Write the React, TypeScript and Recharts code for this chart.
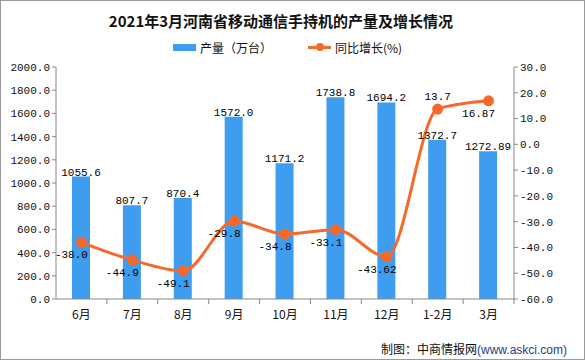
import { ComposedChart, Bar, Line, XAxis, YAxis, LabelList } from 'recharts';

const months = ['6月', '7月', '8月', '9月', '10月', '11月', '12月', '1-2月', '3月'];
const output = [1055.6, 807.7, 870.4, 1572.0, 1171.2, 1738.8, 1694.2, 1372.7, 1272.89];
const growth = [-38.0, -44.9, -49.1, -29.8, -34.8, -33.1, -43.62, 13.7, 16.87];
const leftTicks = [0, 200, 400, 600, 800, 1000, 1200, 1400, 1600, 1800, 2000];
const rightTicks = [-60, -50, -40, -30, -20, -10, 0, 10, 20, 30];

const data = months.map((m, i) => ({ name: m, output: output[i], growth: growth[i] }));

const BLUE = '#3F9DEF';
const ORANGE = '#F5692B';
const NUM_FONT = '"Liberation Mono", "DejaVu Sans Mono", monospace';
const CJK_FONT = '"Noto Sans CJK SC", sans-serif';

const CHART_W = 583;
const MARGIN = { top: 66, right: 10, left: 4, bottom: 0 };
const LEFT_AXIS_W = 51;
const RIGHT_AXIS_W = 60;
const band = (CHART_W - MARGIN.left - MARGIN.right - LEFT_AXIS_W - RIGHT_AXIS_W) / months.length;

// keep one decimal for whole numbers, otherwise show as read
const fmt = (v: number) => {
  const s = String(v);
  return s.includes('.') ? s : v.toFixed(1);
};

// category label plus a tick mark on the category boundary
const MonthTick = (props: any) => {
  const { x, y, payload } = props;
  return (
    <g>
      <line x1={x + band / 2} x2={x + band / 2} y1={y - 6} y2={y - 1} stroke="#888" />
      <text x={x} y={y + 14} textAnchor="middle" fontSize={12} fill="#111" fontFamily={CJK_FONT}>
        {payload.value}
      </text>
    </g>
  );
};

const GrowthLabel = (props: any) => {
  const { x, y, value, index } = props;
  const above = index === 7;
  return (
    <text
      x={above ? x : x - 10}
      y={above ? y - 9 : y + 16}
      textAnchor="middle"
      fontSize={11}
      fontFamily={NUM_FONT}
      fill="#000"
    >
      {fmt(value)}
    </text>
  );
};

const App = () => {
  return (
    <div
      style={{
        position: 'absolute',
        left: 0,
        top: 0,
        width: 585,
        height: 360,
        background: '#fff',
        border: '1px solid #9a9a9a',
        boxSizing: 'border-box',
        fontFamily: CJK_FONT,
      }}
    >
      <div
        style={{
          position: 'absolute',
          top: 9,
          left: 0,
          width: 560,
          textAlign: 'center',
          fontSize: 15,
          fontWeight: 'bold',
          color: '#111',
        }}
      >
        2021年3月河南省移动通信手持机的产量及增长情况
      </div>
      <div style={{ position: 'absolute', top: 38, left: 172, fontSize: 12, display: 'flex', alignItems: 'center', color: '#111' }}>
        <span style={{ display: 'inline-block', width: 23, height: 7, background: BLUE, marginRight: 4 }} />
        <span>产量（万台）</span>
        <span style={{ position: 'relative', display: 'inline-block', width: 23, height: 3, background: ORANGE, marginLeft: 36, marginRight: 4 }}>
          <span style={{ position: 'absolute', left: 8, top: -3, width: 8, height: 8, borderRadius: 4, background: ORANGE }} />
        </span>
        <span>同比增长(%)</span>
      </div>
      <ComposedChart
        width={CHART_W}
        height={330}
        data={data}
        margin={MARGIN}
        style={{ position: 'absolute', left: 0, top: 0 }}
      >
        <XAxis
          dataKey="name"
          axisLine={{ stroke: '#888' }}
          tickLine={false}
          tick={<MonthTick />}
          height={32}
          tickMargin={0}
        />
        <YAxis
          yAxisId="left"
          domain={[0, 2000]}
          ticks={leftTicks}
          tickFormatter={(v: number) => v.toFixed(1)}
          axisLine={{ stroke: '#888' }}
          tickLine={{ stroke: '#888' }}
          tickSize={4}
          width={LEFT_AXIS_W}
          tick={{ fontSize: 11, fill: '#111', fontFamily: NUM_FONT }}
        />
        <YAxis
          yAxisId="right"
          orientation="right"
          domain={[-60, 30]}
          ticks={rightTicks}
          tickFormatter={(v: number) => v.toFixed(1)}
          axisLine={{ stroke: '#888' }}
          tickLine={{ stroke: '#888' }}
          tickSize={4}
          width={RIGHT_AXIS_W}
          tick={{ fontSize: 11, fill: '#111', fontFamily: NUM_FONT }}
        />
        <Bar yAxisId="left" dataKey="output" fill={BLUE} barSize={18} isAnimationActive={false}>
          <LabelList
            dataKey="output"
            position="top"
            offset={1}
            formatter={(v: any) => fmt(Number(v))}
            style={{ fontSize: 11, fill: '#000', fontFamily: NUM_FONT }}
          />
        </Bar>
        <Line
          yAxisId="right"
          type="monotone"
          dataKey="growth"
          stroke={ORANGE}
          strokeWidth={3}
          dot={{ r: 4, fill: ORANGE, stroke: ORANGE }}
          isAnimationActive={false}
        >
          <LabelList dataKey="growth" content={GrowthLabel} />
        </Line>
      </ComposedChart>
      <div style={{ position: 'absolute', top: 339, left: 380, fontSize: 12, color: '#111' }}>
        制图：中商情报网<span style={{ color: '#1f3c88', fontFamily: '"Liberation Sans", sans-serif' }}>(www.askci.com)</span>
      </div>
    </div>
  );
};

export default App;
